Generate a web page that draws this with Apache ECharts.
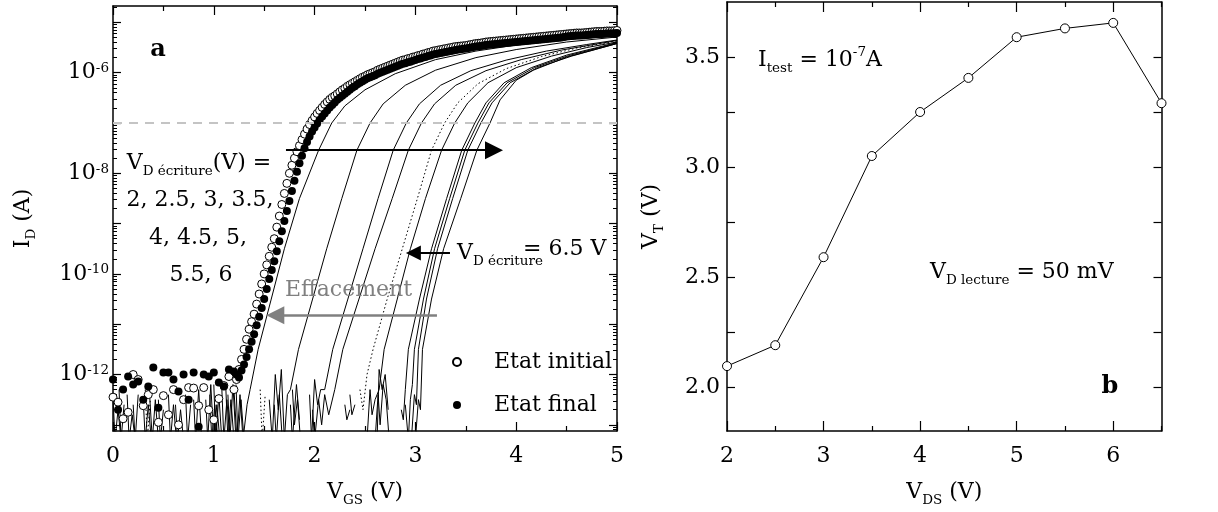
<!DOCTYPE html>
<html><head><meta charset="utf-8">
<script src="https://cdn.jsdelivr.net/npm/echarts@6/dist/echarts.min.js"></script>
<style>html,body{margin:0;padding:0;background:#fff}#c{width:1218px;height:512px}</style>
</head><body><div id="c"></div>
<script>
// ---------- Panel a : log10 I_D (A) vs V_GS (V) ----------
const GAP = '-';
const vgsNoise = [0,0.05,0.1,0.15,0.2,0.25,0.3,0.35,0.4,0.45,0.5,0.55,0.6,0.65,0.7,0.75,0.8,0.85,0.9,0.95,1,1.05,1.1,1.15];
const vgsRise = [1.2,1.225,1.25,1.275,1.3,1.325,1.35,1.375,1.4,1.425,1.45,1.475,1.5,1.525,1.55,1.575,1.6,1.625,1.65,1.675,1.7,1.725,1.75,1.775,1.8,1.825,1.85,1.875,1.9,1.925,1.95,1.975,
2,2.025,2.05,2.075,2.1,2.125,2.15,2.175,2.2,2.225,2.25,2.275,2.3,2.325,2.35,2.375,2.4,2.425,2.45,2.475,2.5,2.525,2.55,2.575,2.6,2.625,2.65,2.675,2.7,2.725,2.75,2.775,2.8,2.825,2.85,2.875,2.9,2.925,2.95,2.975,
3,3.025,3.05,3.075,3.1,3.125,3.15,3.175,3.2,3.225,3.25,3.275,3.3,3.325,3.35,3.375,3.4,3.425,3.45,3.475,3.5,3.525,3.55,3.575,3.6,3.625,3.65,3.675,3.7,3.725,3.75,3.775,3.8,3.825,3.85,3.875,3.9,3.925,3.95,3.975,
4,4.025,4.05,4.075,4.1,4.125,4.15,4.175,4.2,4.225,4.25,4.275,4.3,4.325,4.35,4.375,4.4,4.425,4.45,4.475,4.5,4.525,4.55,4.575,4.6,4.625,4.65,4.675,4.7,4.725,4.75,4.775,4.8,4.825,4.85,4.875,4.9,4.925,4.95,4.975,5];
// Etat initial (open circles)
const initialNoise = [-12.45,-12.55,-12.88,-12.75,-12.0,-12.1,-12.62,-12.4,-12.3,-12.95,-12.42,-12.8,-12.3,-13.0,-12.5,-12.26,-12.27,-12.62,-12.26,-12.7,-12.9,-12.48,-12.22,-12.04];
const initialRise = [-12.30,-12.10,-11.90,-11.70,-11.50,-11.30,-11.10,-10.95,-10.80,-10.60,-10.40,-10.20,-10.00,-9.82,-9.65,-9.47,-9.30,-9.07,-8.85,-8.62,-8.40,-8.20,-8.00,-7.84,-7.70,-7.57,-7.45,-7.33,-7.22,-7.12,-7.03,-6.95,
-6.88,-6.81,-6.75,-6.69,-6.63,-6.58,-6.53,-6.49,-6.46,-6.42,-6.38,-6.34,-6.31,-6.27,-6.24,-6.21,-6.18,-6.15,-6.12,-6.09,-6.07,-6.04,-6.02,-6.00,-5.98,-5.95,-5.93,-5.91,-5.89,-5.87,-5.85,-5.83,-5.81,-5.79,-5.77,-5.75,-5.74,-5.72,-5.71,-5.69,
-5.68,-5.66,-5.65,-5.63,-5.62,-5.60,-5.59,-5.57,-5.56,-5.55,-5.54,-5.53,-5.52,-5.51,-5.50,-5.49,-5.48,-5.475,-5.47,-5.465,-5.46,-5.45,-5.44,-5.43,-5.42,-5.415,-5.41,-5.40,-5.39,-5.385,-5.38,-5.375,-5.37,-5.365,-5.36,-5.355,-5.35,-5.345,-5.34,-5.335,
-5.33,-5.325,-5.32,-5.315,-5.31,-5.305,-5.30,-5.295,-5.29,-5.285,-5.28,-5.275,-5.27,-5.265,-5.26,-5.255,-5.25,-5.245,-5.24,-5.235,-5.23,-5.225,-5.22,-5.215,-5.21,-5.21,-5.21,-5.205,-5.20,-5.195,-5.19,-5.185,-5.18,-5.18,-5.18,-5.175,-5.17,-5.17,-5.17,-5.165,-5.16];
// Etat final (filled circles)
const finalNoise = [-12.1,-12.7,-12.3,-12.04,-12.2,-12.14,-12.5,-12.24,-11.86,-12.66,-11.96,-11.96,-12.1,-12.34,-12.0,-12.5,-11.96,-13.04,-12.0,-12.04,-11.96,-12.16,-12.24,-11.9];
const finalRise = [-11.94,-12.00,-12.06,-11.92,-11.80,-11.65,-11.50,-11.35,-11.20,-11.02,-10.85,-10.68,-10.50,-10.30,-10.10,-9.92,-9.75,-9.55,-9.35,-9.15,-8.95,-8.75,-8.55,-8.35,-8.15,-7.97,-7.80,-7.65,-7.50,-7.38,-7.27,-7.17,
-7.09,-7.01,-6.94,-6.87,-6.81,-6.75,-6.69,-6.64,-6.59,-6.54,-6.50,-6.46,-6.42,-6.38,-6.34,-6.30,-6.27,-6.23,-6.20,-6.17,-6.14,-6.11,-6.09,-6.07,-6.05,-6.02,-6.00,-5.98,-5.96,-5.94,-5.92,-5.90,-5.88,-5.86,-5.84,-5.82,-5.81,-5.79,-5.78,-5.76,
-5.75,-5.73,-5.72,-5.70,-5.69,-5.67,-5.66,-5.64,-5.63,-5.62,-5.61,-5.60,-5.59,-5.58,-5.57,-5.56,-5.55,-5.54,-5.535,-5.525,-5.52,-5.51,-5.50,-5.49,-5.48,-5.475,-5.47,-5.46,-5.45,-5.445,-5.44,-5.435,-5.43,-5.425,-5.42,-5.415,-5.41,-5.405,-5.40,-5.395,
-5.39,-5.385,-5.38,-5.375,-5.37,-5.365,-5.36,-5.355,-5.35,-5.345,-5.34,-5.335,-5.33,-5.325,-5.32,-5.315,-5.31,-5.305,-5.30,-5.29,-5.28,-5.275,-5.27,-5.265,-5.26,-5.26,-5.26,-5.255,-5.25,-5.245,-5.24,-5.235,-5.23,-5.23,-5.23,-5.225,-5.22,-5.22,-5.22,-5.215,-5.21];
// curves after writing at V_D = 2 ... 6 V (solid) and 6.5 V (dotted): [V_GS, log10 I_D]
const write2_0 = [[0.00,-12.45],[0.02,-13.3],[0.05,-12.7],[0.08,-13.3],GAP,[0.36,-12.3],[0.39,-13.3],[0.42,-12.5],[0.45,-13.3],GAP,[0.92,-12.5],[0.94,-13.3],[0.97,-12.2],[1.00,-13.3],[1.03,-12.6],[1.06,-13.3],GAP,[1.20,-12.3],[1.23,-13.3],[1.26,-12.4],[1.29,-13.3],[1.33,-12.6],[1.36,-12.3],[1.44,-11.5],[1.57,-10.5],[1.70,-9.5],[1.85,-8.5],[2.04,-7.54],[2.17,-7.0],[2.30,-6.66],[2.50,-6.34],[2.80,-6.02],[3.20,-5.74],[3.60,-5.57],[4.00,-5.45],[4.50,-5.34],[5.00,-5.27]];
const write2_5 = [[0.14,-12.4],[0.16,-13.3],[0.19,-12.8],[0.22,-13.3],GAP,[0.62,-12.6],[0.64,-13.3],[0.67,-12.7],[0.70,-13.3],GAP,[1.08,-12.3],[1.10,-13.3],[1.13,-12.5],[1.16,-13.3],GAP,[1.55,-12.5],[1.58,-13.3],[1.61,-12.0],[1.64,-12.7],[1.67,-11.9],[1.70,-13.3],[1.73,-12.4],[1.76,-12.3],[1.84,-11.5],[1.98,-10.5],[2.12,-9.5],[2.27,-8.5],[2.42,-7.54],[2.55,-7.0],[2.68,-6.62],[2.90,-6.25],[3.20,-5.95],[3.60,-5.70],[4.00,-5.54],[4.50,-5.39],[5.00,-5.29]];
const write3_0 = [[0.96,-12.4],[0.98,-13.3],[1.01,-12.6],[1.04,-13.3],GAP,[1.76,-12.6],[1.78,-13.3],[1.82,-12.2],[1.85,-12.9],GAP,[1.95,-12.4],[1.97,-13.3],[2.00,-12.1],[2.03,-12.6],[2.06,-12.3],[2.10,-12.3],[2.18,-11.5],[2.33,-10.5],[2.48,-9.5],[2.63,-8.5],[2.78,-7.54],[2.91,-7.0],[3.04,-6.62],[3.25,-6.25],[3.55,-5.96],[3.90,-5.75],[4.30,-5.57],[4.70,-5.44],[5.00,-5.35]];
const write3_5 = [[0.30,-12.5],[0.32,-13.3],[0.35,-12.6],[0.38,-13.3],GAP,[1.98,-12.7],[2.00,-13.3],[2.04,-12.5],[2.07,-13.0],[2.10,-12.4],[2.14,-12.8],[2.20,-12.3],[2.28,-11.5],[2.44,-10.5],[2.60,-9.5],[2.77,-8.5],[2.93,-7.54],[3.06,-7.0],[3.19,-6.62],[3.40,-6.25],[3.70,-5.96],[4.05,-5.74],[4.45,-5.55],[5.00,-5.36]];
const write4_0 = [[1.12,-12.3],[1.14,-13.3],[1.17,-12.5],[1.20,-13.3],GAP,[2.30,-12.6],[2.32,-12.9],[2.35,-12.7],GAP,[2.52,-13.3],[2.55,-12.3],[2.57,-12.8],[2.60,-12.5],[2.64,-12.3],[2.69,-11.5],[2.82,-10.5],[2.95,-9.5],[3.10,-8.5],[3.26,-7.54],[3.39,-7.0],[3.52,-6.6],[3.72,-6.2],[4.00,-5.9],[4.35,-5.67],[4.70,-5.5],[5.00,-5.39]];
const write4_5 = [[0.55,-12.4],[0.57,-13.3],[0.60,-12.6],[0.63,-13.3],GAP,[1.22,-12.2],[1.24,-13.3],[1.27,-12.5],[1.30,-13.3],GAP,[2.60,-13.3],[2.63,-12.4],[2.65,-13.0],[2.68,-12.2],[2.71,-12.5],[2.74,-13.3],GAP,[2.86,-12.7],[2.88,-12.9],[2.90,-12.3],[2.93,-11.5],[3.04,-10.5],[3.16,-9.5],[3.31,-8.5],[3.46,-7.54],[3.59,-7.0],[3.70,-6.6],[3.88,-6.2],[4.15,-5.9],[4.50,-5.65],[5.00,-5.40]];
const write5_0 = [[0.20,-12.6],[0.22,-13.3],[0.25,-12.4],GAP,[0.80,-12.5],[0.82,-13.3],[0.85,-12.3],[0.88,-13.3],GAP,[1.60,-12.6],[1.62,-13.3],[1.65,-12.4],[1.68,-13.3],GAP,[2.90,-12.6],[2.93,-13.3],[2.95,-12.5],[2.97,-12.2],[2.99,-11.5],[3.08,-10.5],[3.19,-9.5],[3.34,-8.5],[3.49,-7.54],[3.62,-7.0],[3.73,-6.6],[3.91,-6.2],[4.18,-5.9],[4.52,-5.66],[5.00,-5.41]];
const write5_5 = [[0.45,-12.5],[0.47,-13.3],[0.50,-12.7],GAP,[1.00,-12.2],[1.02,-13.3],[1.05,-12.4],[1.08,-13.3],GAP,[1.78,-12.3],[1.80,-13.0],[1.83,-12.5],[1.86,-13.3],GAP,[2.96,-13.3],[2.99,-12.4],[3.01,-12.6],[3.03,-11.5],[3.11,-10.5],[3.22,-9.5],[3.37,-8.5],[3.52,-7.54],[3.65,-7.0],[3.76,-6.6],[3.94,-6.2],[4.21,-5.9],[4.55,-5.67],[5.00,-5.42]];
const write6_0 = [[0.06,-12.3],[0.08,-13.3],[0.11,-12.6],GAP,[0.72,-12.4],[0.74,-13.3],[0.77,-12.6],GAP,[1.14,-12.4],[1.16,-13.3],[1.19,-12.2],[1.22,-13.3],GAP,[2.35,-12.4],[2.37,-12.8],[2.40,-12.6],GAP,[2.62,-13.3],[2.64,-11.9],[2.67,-12.3],[2.70,-12.0],[2.73,-12.7],GAP,[3.00,-13.3],[3.03,-12.5],[3.05,-12.7],[3.07,-11.5],[3.16,-10.5],[3.28,-9.5],[3.45,-8.5],[3.61,-7.54],[3.74,-7.0],[3.84,-6.54],[4.00,-6.15],[4.17,-5.95],[4.50,-5.69],[5.00,-5.42]];
const write6_5 = [[0.32,-12.3],[0.34,-13.3],[0.37,-12.5],GAP,[1.46,-12.3],[1.48,-13.3],[1.51,-12.4],GAP,[2.45,-12.3],[2.48,-12.7],[2.52,-12.0],[2.58,-11.5],[2.72,-10.5],[2.87,-9.5],[3.02,-8.5],[3.16,-7.54],[3.29,-7.0],[3.42,-6.6],[3.62,-6.22],[3.90,-5.92],[4.25,-5.68],[4.60,-5.51],[5.00,-5.37]];
const writeCurves = [write2_0, write2_5, write3_0, write3_5, write4_0, write4_5, write5_0, write5_5, write6_0];
const yDecadeLabels = [-12, -10, -8, -6];
const yDecadeTicks = [-13, -12, -11, -10, -9, -8, -7, -6, -5];
const iTestLog = -7;

// ---------- Panel b : V_T vs V_DS ----------
const vds = [2, 2.5, 3, 3.5, 4, 4.5, 5, 5.5, 6, 6.5];
const vt = [2.095, 2.19, 2.59, 3.05, 3.25, 3.405, 3.59, 3.63, 3.655, 3.29];
const vdsMajor = [2, 3, 4, 5, 6];
const vdsMinor = [2.5, 3.5, 4.5, 5.5, 6.5];
const vtTicks = [2.0, 2.25, 2.5, 2.75, 3.0, 3.25, 3.5];
const vtLabels = [2.0, 2.5, 3.0, 3.5];

const FONT = 'DejaVu Serif';
const minorLog = [];
for (let n = -14; n <= -5; n++) for (let k = 2; k <= 9; k++) minorLog.push(n + Math.log10(k));

const base = {fontFamily: FONT, fontSize: 22, color: '#000'};
const rich = {
  n: {fontFamily: FONT, fontSize: 22, lineHeight: 30, color: '#000'},
  b: {fontFamily: FONT, fontSize: 22, lineHeight: 22, color: '#000'},
  sub: {fontFamily: FONT, fontSize: 13.5, lineHeight: 14, verticalAlign: 'bottom', color: '#000'},
  sup: {fontFamily: FONT, fontSize: 13.5, lineHeight: 14, verticalAlign: 'top', color: '#000'}
};
const LINE = {color: '#000', width: 1.5};
const TK = {color: '#000', width: 1.2};
const Y0MIN = -13.123, Y0MAX = -4.674;

function tickAxis(extra) { return Object.assign({
  axisLine: {show: false}, axisLabel: {show: false}, splitLine: {show: false}
}, extra); }

const option = {
  animation: false,
  backgroundColor: '#fff',
  grid: [
    {left: 113, top: 6, width: 504, height: 425},
    {left: 727, top: 2, width: 434.5, height: 430}
  ],
  xAxis: [
    {gridIndex: 0, type: 'value', min: 0, max: 5, interval: 1, position: 'bottom',
     axisLine: {lineStyle: LINE}, axisTick: {inside: true, length: 9, lineStyle: TK},
     minorTick: {show: true, splitNumber: 2, length: 5, lineStyle: TK},
     axisLabel: Object.assign({margin: 14}, base), splitLine: {show: false},
     name: '{n|V}{sub|GS}{n| (V)}', nameLocation: 'middle', nameGap: 46, nameTextStyle: {rich}},
    {gridIndex: 0, type: 'value', min: 0, max: 5, interval: 1, position: 'top',
     axisLine: {lineStyle: LINE}, axisTick: {inside: true, length: 9, lineStyle: TK},
     minorTick: {show: true, splitNumber: 2, length: 5, lineStyle: TK},
     axisLabel: {show: false}, splitLine: {show: false}},
    {gridIndex: 1, type: 'value', min: 2, max: 6.5, position: 'bottom',
     axisLine: {lineStyle: LINE}, axisTick: {inside: true, length: 10, customValues: vdsMajor, lineStyle: TK},
     axisLabel: Object.assign({margin: 14, customValues: vdsMajor}, base), splitLine: {show: false},
     name: '{n|V}{sub|DS}{n| (V)}', nameLocation: 'middle', nameGap: 46, nameTextStyle: {rich}},
    tickAxis({gridIndex: 1, type: 'value', min: 2, max: 6.5, position: 'bottom',
     axisTick: {inside: true, length: 5, customValues: vdsMinor, lineStyle: TK}}),
    {gridIndex: 1, type: 'value', min: 2, max: 6.5, position: 'top',
     axisLine: {lineStyle: LINE}, axisTick: {inside: true, length: 10, customValues: vdsMajor, lineStyle: TK},
     axisLabel: {show: false}, splitLine: {show: false}},
    tickAxis({gridIndex: 1, type: 'value', min: 2, max: 6.5, position: 'top',
     axisTick: {inside: true, length: 5, customValues: vdsMinor, lineStyle: TK}})
  ],
  yAxis: [
    {gridIndex: 0, type: 'value', min: Y0MIN, max: Y0MAX, position: 'left',
     axisLine: {show: true, lineStyle: LINE},
     axisTick: {inside: true, length: 8, customValues: yDecadeTicks, lineStyle: TK},
     axisLabel: {customValues: yDecadeLabels, margin: 4, formatter: v => '{b|10}{sup|' + v + '}', rich},
     splitLine: {show: false},
     name: '{n|I}{sub|D}{n| (A)}', nameLocation: 'middle', nameGap: 75, nameTextStyle: {rich}},
    tickAxis({gridIndex: 0, type: 'value', min: Y0MIN, max: Y0MAX, position: 'left',
     axisTick: {inside: true, length: 4, customValues: minorLog, lineStyle: {color: '#000', width: 1}}}),
    {gridIndex: 0, type: 'value', min: Y0MIN, max: Y0MAX, position: 'right',
     axisLine: {show: true, lineStyle: LINE},
     axisTick: {inside: true, length: 8, customValues: yDecadeTicks, lineStyle: TK},
     axisLabel: {show: false}, splitLine: {show: false}},
    tickAxis({gridIndex: 0, type: 'value', min: Y0MIN, max: Y0MAX, position: 'right',
     axisTick: {inside: true, length: 4, customValues: minorLog, lineStyle: {color: '#000', width: 1}}}),
    {gridIndex: 1, type: 'value', min: 1.8, max: 3.75, position: 'left',
     axisLine: {show: true, lineStyle: LINE},
     axisTick: {inside: true, length: 8, customValues: vtTicks, lineStyle: TK},
     axisLabel: Object.assign({customValues: vtLabels, margin: 7, formatter: v => v.toFixed(1)}, base),
     splitLine: {show: false},
     name: '{n|V}{sub|T}{n| (V)}', nameLocation: 'middle', nameGap: 61, nameTextStyle: {rich}},
    {gridIndex: 1, type: 'value', min: 1.8, max: 3.75, position: 'right',
     axisLine: {show: true, lineStyle: LINE},
     axisTick: {inside: true, length: 8, customValues: vtTicks, lineStyle: TK},
     axisLabel: {show: false}, splitLine: {show: false}}
  ],
  legend: {
    left: 447, top: 346, orient: 'vertical', itemGap: 21, itemWidth: 8, itemHeight: 8,
    textStyle: {fontFamily: FONT, fontSize: 22, color: '#000', padding: [0, 0, 0, 28]},
    data: ['Etat initial', 'Etat final']
  },
  series: [],
  graphic: []
};

writeCurves.forEach(c => option.series.push({
  type: 'line', xAxisIndex: 0, yAxisIndex: 0, data: c, symbol: 'none', connectNulls: false,
  lineStyle: {color: '#000', width: 1}, z: 2, silent: true
}));
option.series.push({
  type: 'line', xAxisIndex: 0, yAxisIndex: 0, data: write6_5, symbol: 'none', connectNulls: false,
  lineStyle: {color: '#000', width: 1, type: [1.5, 2.5]}, z: 2, silent: true
});
const initialPts = vgsNoise.map((v, i) => [v, initialNoise[i]]).concat(vgsRise.map((v, i) => [v, initialRise[i]]));
const finalPts = vgsNoise.map((v, i) => [v, finalNoise[i]]).concat(vgsRise.map((v, i) => [v, finalRise[i]]));
option.series.push({
  name: 'Etat initial', type: 'scatter', xAxisIndex: 0, yAxisIndex: 0,
  data: initialPts, symbol: 'circle', symbolSize: 8,
  itemStyle: {color: '#fff', borderColor: '#000', borderWidth: 1, opacity: 1}, z: 3,
  markLine: {
    silent: true, animation: false, label: {show: false}, symbol: ['none', 'none'],
    data: [[{coord: [0, iTestLog]}, {coord: [5, iTestLog]}]],
    lineStyle: {color: '#c4c4c4', width: 2, type: [9, 7]}
  }
});
option.series.push({
  name: 'Etat final', type: 'scatter', xAxisIndex: 0, yAxisIndex: 0,
  data: finalPts, symbol: 'circle', symbolSize: 8,
  itemStyle: {color: '#000', opacity: 1}, z: 4
});
// arrows
option.series.push({
  type: 'line', xAxisIndex: 0, yAxisIndex: 0, data: [], z: 5,
  markLine: {
    silent: true, animation: false, label: {show: false}, symbol: ['none', 'triangle'],
    data: [
      [{coord: [1.716, -7.54], lineStyle: {color: '#000', width: 2, type: 'solid'}, itemStyle: {color: '#000'}, symbolSize: [18, 18]}, {coord: [3.78, -7.54], symbolSize: [18, 18]}],
      [{coord: [3.214, -10.82], lineStyle: {color: '#808080', width: 2.5, type: 'solid'}, itemStyle: {color: '#808080'}, symbolSize: [18, 18]}, {coord: [1.61, -10.82], symbolSize: [18, 18]}],
      [{coord: [3.343, -9.585], lineStyle: {color: '#000', width: 2, type: 'solid'}, itemStyle: {color: '#000'}, symbolSize: [15, 15]}, {coord: [2.98, -9.585], symbolSize: [15, 15]}]
    ]
  }
});
// panel b
option.series.push({
  type: 'line', xAxisIndex: 2, yAxisIndex: 4, data: vds.map((v, i) => [v, vt[i]]),
  symbol: 'circle', symbolSize: 9, showAllSymbol: true,
  lineStyle: {color: '#000', width: 1}, itemStyle: {color: '#fff', borderColor: '#000', borderWidth: 1, opacity: 1}
});

function txt(x, y, rt, extra) {
  return {type: 'text', x, y, z: 10,
    style: Object.assign({text: rt, rich, font: '22px "DejaVu Serif"', fill: '#000', verticalAlign: 'middle'}, extra || {})};
}
option.graphic = [
  txt(158, 50, 'a', {font: 'bold 24px "DejaVu Serif"', align: 'center'}),
  txt(199, 163, '{n|V}{sub|D écriture}{n|(V) =}', {align: 'center'}),
  txt(200, 200, '{n|2, 2.5, 3, 3.5,}', {align: 'center'}),
  txt(198, 238, '{n|4, 4.5, 5,}', {align: 'center'}),
  txt(201, 275, '{n|5.5, 6}', {align: 'center'}),
  txt(285, 290, 'Effacement', {fill: '#808080'}),
  txt(457, 253, '{n|V}{sub|D écriture}', {}),
  txt(523, 249, '= 6.5 V', {}),
  txt(758, 60, '{n|I}{sub|test}{n| = 10}{sup|-7}{n|A}', {}),
  txt(930, 272, '{n|V}{sub|D lecture}{n| = 50 mV}', {}),
  txt(1110, 387, 'b', {font: 'bold 24px "DejaVu Serif"', align: 'center'})
];

const chart = echarts.init(document.getElementById('c'), null, {renderer: 'canvas'});
chart.setOption(option);
</script></body></html>
